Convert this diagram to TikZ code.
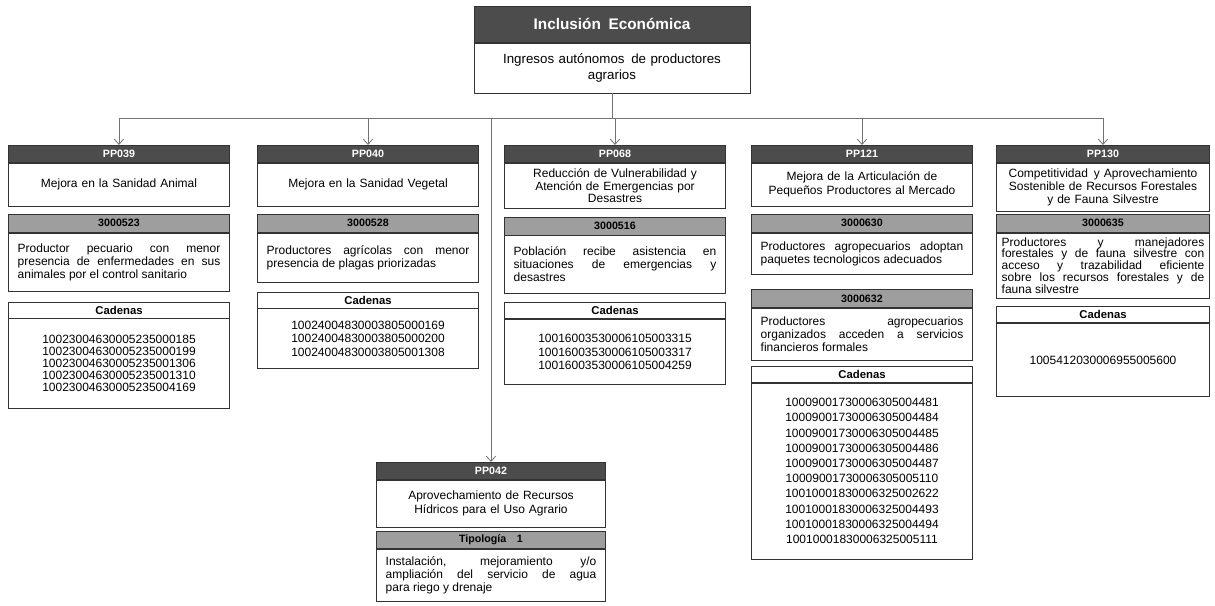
\documentclass[tikz,border=0pt]{standalone}
\usepackage{fontspec}
\setmainfont{Liberation Sans}
\usetikzlibrary{positioning,arrows.meta}
\definecolor{hdark}{gray}{0.3}
\definecolor{hlight}{gray}{0.62}
\definecolor{edge}{gray}{0.2}
\definecolor{wire}{gray}{0.45}
\hyphenpenalty=10000
\exhyphenpenalty=10000

\begin{document}
\begin{tikzpicture}[x=0.75pt, y=-0.75pt,
    tophead/.style={draw=edge, fill=hdark, text=white, font=\fontsize{11.5}{13}\selectfont\bfseries,
      align=center, text width=199pt, inner xsep=4pt, minimum height=27pt},
    topbox/.style={draw=edge, fill=white, font=\fontsize{10}{12}\selectfont,
      align=center, text width=199pt, inner xsep=4pt, minimum height=37.5pt},
    pphead/.style={draw=edge, fill=hdark, text=white, font=\fontsize{8}{9}\selectfont\bfseries,
      align=center, inner xsep=4pt, inner ysep=1pt, minimum height=13pt},
    ppbox/.style={draw=edge, fill=white, font=\fontsize{9}{10}\selectfont,
      align=center, inner xsep=4pt, minimum height=32pt},
    prodhead/.style={draw=edge, fill=hlight, font=\fontsize{8}{9}\selectfont\bfseries,
      align=center, inner xsep=4pt, inner ysep=1pt, minimum height=13.5pt},
    prodbox/.style={draw=edge, fill=white, font=\fontsize{9}{9.8}\selectfont,
      align=justify, inner xsep=7pt},
    cadhead/.style={draw=edge, fill=white, font=\fontsize{8.5}{9}\selectfont\bfseries,
      align=center, inner xsep=4pt, inner ysep=1pt, minimum height=12pt},
    cadbox/.style={draw=edge, fill=white, font=\fontsize{9}{10}\selectfont,
      align=center, inner xsep=4pt},
    colA/.style={text width=158pt}, txtA/.style={text width=152pt},
    colB/.style={text width=152pt}, txtB/.style={text width=152pt, inner xsep=4pt},
    colC/.style={text width=164pt}, txtC/.style={text width=158pt},
    wire/.style={draw=wire, line width=0.6pt},
    >={Straight Barb[length=4pt,width=7pt]}]

  \useasboundingbox (0,0) rectangle (1215,606);

  % eje
  \node[tophead, anchor=north] (eje) at (612,6) {Inclusión\, Económica};
  \node[topbox, below=0pt of eje] (ingr) {Ingresos autónomos\, de productores\\agrarios};

  % PP039
  \node[pphead, colA, anchor=north] (pp039) at (119,145) {PP039};
  \node[ppbox, colA, below=0pt of pp039] (pp039t) {Mejora en la Sanidad Animal};
  \node[prodhead, colA, below=6pt of pp039t] (p523) {3000523};
  \node[prodbox, txtA, below=0pt of p523, minimum height=44pt] (p523t)
    {Productor pecuario con menor\linebreak presencia de enfermedades en sus\linebreak animales por el control sanitario};
  \node[cadhead, colA, below=7.5pt of p523t] (cad039) {Cadenas};
  \node[cadbox, colA, below=0pt of cad039, minimum height=67pt, font=\fontsize{9}{9}\selectfont] (cad039t)
    {10023004630005235000185\\10023004630005235000199\\10023004630005235001306\\
     10023004630005235001310\\10023004630005235004169};

  % PP040
  \node[pphead, colA, anchor=north] (pp040) at (368,145) {PP040};
  \node[ppbox, colA, below=0pt of pp040] (pp040t) {Mejora en la Sanidad Vegetal};
  \node[prodhead, colA, below=6pt of pp040t] (p528) {3000528};
  \node[prodbox, txtA, below=0pt of p528, minimum height=37pt] (p528t)
    {Productores agrícolas con menor\linebreak presencia de plagas priorizadas};
  \node[cadhead, colA, below=7pt of p528t] (cad040) {Cadenas};
  \node[cadbox, colA, below=0pt of cad040, minimum height=45pt] (cad040t)
    {10024004830003805000169\\10024004830003805000200\\10024004830003805001308};

  % PP068
  \node[pphead, colA, anchor=north] (pp068) at (615,145) {PP068};
  \node[ppbox, colA, below=0pt of pp068, minimum height=34pt, inner ysep=1pt,
    font=\fontsize{9}{9.6}\selectfont] (pp068t)
    {Reducción de Vulnerabilidad y\\Atención de Emergencias por\\Desastres};
  \node[prodhead, colA, below=6pt of pp068t] (p516) {3000516};
  \node[prodbox, txtA, below=0pt of p516, minimum height=43pt] (p516t)
    {Población recibe asistencia en\linebreak situaciones de emergencias y\linebreak desastres};
  \node[cadhead, colA, below=7pt of p516t] (cad068) {Cadenas};
  \node[cadbox, colA, below=0pt of cad068, minimum height=49pt] (cad068t)
    {10016003530006105003315\\10016003530006105003317\\10016003530006105004259};

  % PP121
  \node[pphead, colA, anchor=north] (pp121) at (862,145) {PP121};
  \node[ppbox, colA, below=0pt of pp121] (pp121t)
    {Mejora de la Articulación de\\Pequeños Productores al Mercado};
  \node[prodhead, colA, below=6pt of pp121t] (p630) {3000630};
  \node[prodbox, txtA, below=0pt of p630, minimum height=31pt] (p630t)
    {Productores agropecuarios adoptan\linebreak paquetes tecnologicos adecuados};
  \node[prodhead, colA, below=11pt of p630t] (p632) {3000632};
  \node[prodbox, txtA, below=0pt of p632, minimum height=39pt] (p632t)
    {Productores agropecuarios\linebreak organizados acceden a servicios\linebreak financieros formales};
  \node[cadhead, colA, below=4.5pt of p632t] (cad121) {Cadenas};
  \node[cadbox, colA, below=0pt of cad121, minimum height=132pt, font=\fontsize{9}{11.4}\selectfont] (cad121t)
    {10009001730006305004481\\10009001730006305004484\\10009001730006305004485\\
     10009001730006305004486\\10009001730006305004487\\10009001730006305005110\\
     10010001830006325002622\\10010001830006325004493\\10010001830006325004494\\
     10010001830006325005111};

  % PP130
  \node[pphead, colB, anchor=north] (pp130) at (1103,145) {PP130};
  \node[ppbox, colB, below=0pt of pp130, minimum height=36pt, inner ysep=1pt,
    font=\fontsize{9}{9.8}\selectfont] (pp130t)
    {Competitividad\, y Aprovechamiento\\Sostenible de Recursos Forestales\\y de Fauna Silvestre};
  \node[prodhead, colB, below=2pt of pp130t] (p635) {3000635};
  \node[prodbox, txtB, below=0pt of p635, minimum height=49pt, inner ysep=2pt,
    font=\fontsize{9}{8.9}\selectfont] (p635t)
    {Productores y manejadores\linebreak forestales y de fauna silvestre con\linebreak acceso y trazabilidad eficiente\linebreak sobre los recursos forestales y de\linebreak fauna silvestre};
  \node[cadhead, colB, below=6pt of p635t] (cad130) {Cadenas};
  \node[cadbox, colB, below=0pt of cad130, minimum height=55pt] (cad130t)
    {1005412030006955005600};

  % PP042
  \node[pphead, colC, anchor=north] (pp042) at (491,462) {PP042};
  \node[ppbox, colC, below=0pt of pp042, minimum height=35pt] (pp042t)
    {Aprovechamiento de Recursos\\Hídricos para el Uso Agrario};
  \node[prodhead, colC, below=3pt of pp042t, minimum height=13pt] (tip1) {Tipología\quad 1};
  \node[prodbox, txtC, below=0pt of tip1, minimum height=39pt] (tip1t)
    {Instalación, mejoramiento y/o\linebreak ampliación del servicio de agua\linebreak para riego y drenaje};

  % conectores
  \coordinate (bus) at (612,118);
  \draw[wire] (ingr.south) -- (bus);
  \draw[wire] (pp039.north |- bus) -- (pp130.north |- bus);
  \foreach \pp in {pp039,pp040,pp068,pp121,pp130}
    \draw[wire, ->] (\pp.north |- bus) -- (\pp.north);
  \draw[wire, ->] (pp042.north |- bus) -- (pp042.north);

\end{tikzpicture}
\end{document}
